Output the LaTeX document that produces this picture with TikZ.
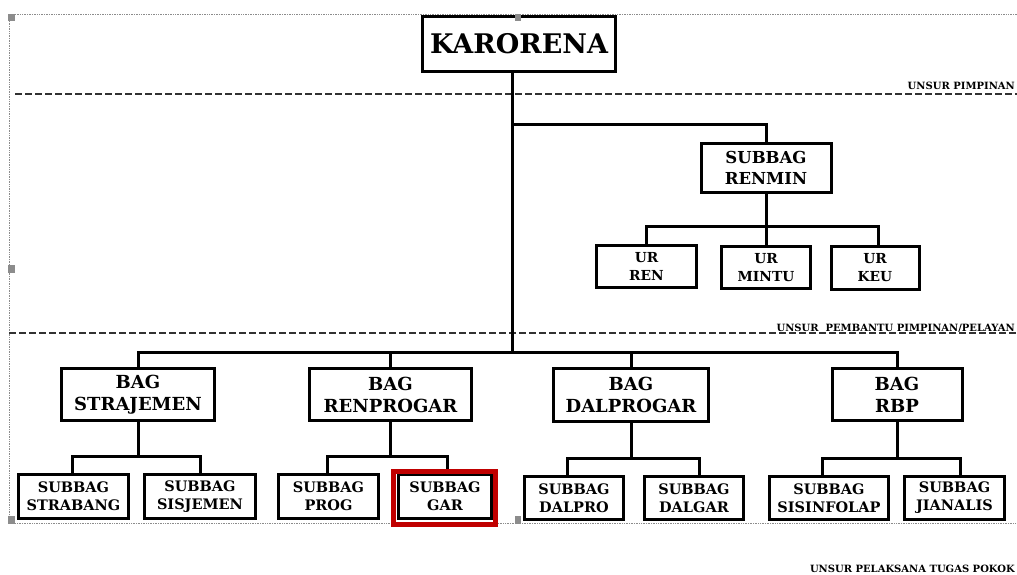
\documentclass[tikz,border=0pt]{standalone}
\usepackage{fontspec}
\setmainfont{DejaVu Serif}
\definecolor{hlred}{RGB}{192,0,0}
\definecolor{selgray}{RGB}{140,140,140}
\definecolor{dashgray}{RGB}{50,50,50}
\begin{document}
\begin{tikzpicture}[x=1pt,y=-1pt,
  box/.style={draw, line width=3pt, fill=white, align=center, inner sep=0pt},
  fk/.style={font=\fontsize{27}{32}\selectfont\bfseries},
  fr/.style={font=\fontsize{16.5}{21.5}\selectfont\bfseries},
  fu/.style={font=\fontsize{13.8}{18}\selectfont\bfseries},
  fb/.style={font=\fontsize{18}{22}\selectfont\bfseries},
  fs/.style={font=\fontsize{14.5}{18}\selectfont\bfseries},
  lbl/.style={font=\fontsize{10}{12}\selectfont\bfseries, inner sep=0pt},
  conn/.style={line width=3pt},
  divider/.style={line width=2pt, dashgray, dash pattern=on 7pt off 3pt},
  selframe/.style={selgray, densely dotted, line width=0.7pt},
  handle/.style={fill=selgray}
]
\useasboundingbox (0,0) rectangle (1017,574);
\fill[white] (0,0) rectangle (1017,574);

% selection frame
\draw[selframe] (1017,14) -- (9,14) -- (9,523) -- (1017,523);

% dividers
\draw[divider] (15,94) -- (1017,94);
\draw[divider] (9,333) -- (1017,333);
\node[lbl, anchor=base east] (l1) at (1015,89) {UNSUR PIMPINAN};
\node[lbl, anchor=base east] (l2) at (1015,331) {UNSUR\ \ PEMBANTU PIMPINAN/PELAYAN};
\node[lbl, anchor=base east] (l3) at (1015,572) {UNSUR PELAKSANA TUGAS POKOK};

% nodes
\node[box, fk, minimum width=193, minimum height=55] (karo) at (519,44) {KARORENA};
\node[box, fr, minimum width=130, minimum height=49] (renmin) at (766,168) {SUBBAG\\RENMIN};
\node[box, fu, minimum width=100, minimum height=42] (ren) at (646.5,266.5) {UR\\REN};
\node[box, fu, minimum width=89, minimum height=42] (mintu) at (766,267.5) {UR\\MINTU};
\node[box, fu, minimum width=88, minimum height=43] (keu) at (875,268) {UR\\KEU};

\node[box, fb, minimum width=153, minimum height=52] (strat) at (138,394.5) {BAG\\STRAJEMEN};
\node[box, fb, minimum width=162, minimum height=52] (renp) at (390.5,394.5) {BAG\\RENPROGAR};
\node[box, fb, minimum width=155, minimum height=53] (dalp) at (631,395) {BAG\\DALPROGAR};
\node[box, fb, minimum width=130, minimum height=52] (rbp) at (897,394.5) {BAG\\RBP};

\node[box, fs, minimum width=110, minimum height=44] (strabang) at (73.5,496.5) {SUBBAG\\STRABANG};
\node[box, fs, minimum width=111, minimum height=44] (sisjemen) at (200,496.5) {SUBBAG\\SISJEMEN};
\node[box, fs, minimum width=100, minimum height=44] (prog) at (328.5,496.5) {SUBBAG\\PROG};
\node[box, fs, minimum width=93, minimum height=44] (gar) at (445,496.5) {SUBBAG\\GAR};
\node[box, fs, minimum width=99, minimum height=43] (dalpro) at (574,498) {SUBBAG\\DALPRO};
\node[box, fs, minimum width=99, minimum height=43] (dalgar) at (694,498) {SUBBAG\\DALGAR};
\node[box, fs, minimum width=119, minimum height=43] (sisinfolap) at (829,498) {SUBBAG\\SISINFOLAP};
\node[box, fs, minimum width=100, minimum height=43] (jianalis) at (954.5,498) {SUBBAG\\JIANALIS};

% junctions
\coordinate (jr) at (512,124);
\coordinate (jb) at (512,352);
\coordinate (ju) at (766,226);
\coordinate (b1) at (138,456);
\coordinate (b2) at (390.5,456);
\coordinate (b3) at (631,458);
\coordinate (b4) at (897,458);

% connectors
\draw[conn] (karo.south -| jr) -- (jb);
\draw[conn] (jr) -| (renmin.north);
\draw[conn] (renmin.south) -- (ju);
\draw[conn] (ren.north) |- (ju) -| ([xshift=3]keu.north);
\draw[conn] (mintu.north) -- (ju);
\draw[conn] (strat.north) |- (jb) -| (rbp.north);
\draw[conn] (renp.north) -- (renp.north |- jb);
\draw[conn] (dalp.north) -- (dalp.north |- jb);

\draw[conn] (strat.south) -- (b1);
\draw[conn] ([xshift=-1.5]strabang.north) |- (b1) -| (sisjemen.north);
\draw[conn] (renp.south) -- (b2);
\draw[conn] ([xshift=-1.5]prog.north) |- (b2) -| ([xshift=2]gar.north);
\draw[conn] (dalp.south) -- (b3);
\draw[conn] ([xshift=-7]dalpro.north) |- (b3) -| ([xshift=5]dalgar.north);
\draw[conn] (rbp.south) -- (b4);
\draw[conn] ([xshift=-7]sisinfolap.north) |- (b4) -| ([xshift=5.5]jianalis.north);

% highlight
\node[draw=hlred, line width=5pt, minimum width=102, minimum height=53, inner sep=0pt] (hl) at (444.5,498) {};

% selection handles
\fill[handle] (8,14) rectangle (15,21);
\fill[handle] (515,14) rectangle (521,21);
\fill[handle] (8,265) rectangle (15,273);
\fill[handle] (8,516) rectangle (15,524);
\fill[handle] (515,516) rectangle (521,524);
\end{tikzpicture}
\end{document}
